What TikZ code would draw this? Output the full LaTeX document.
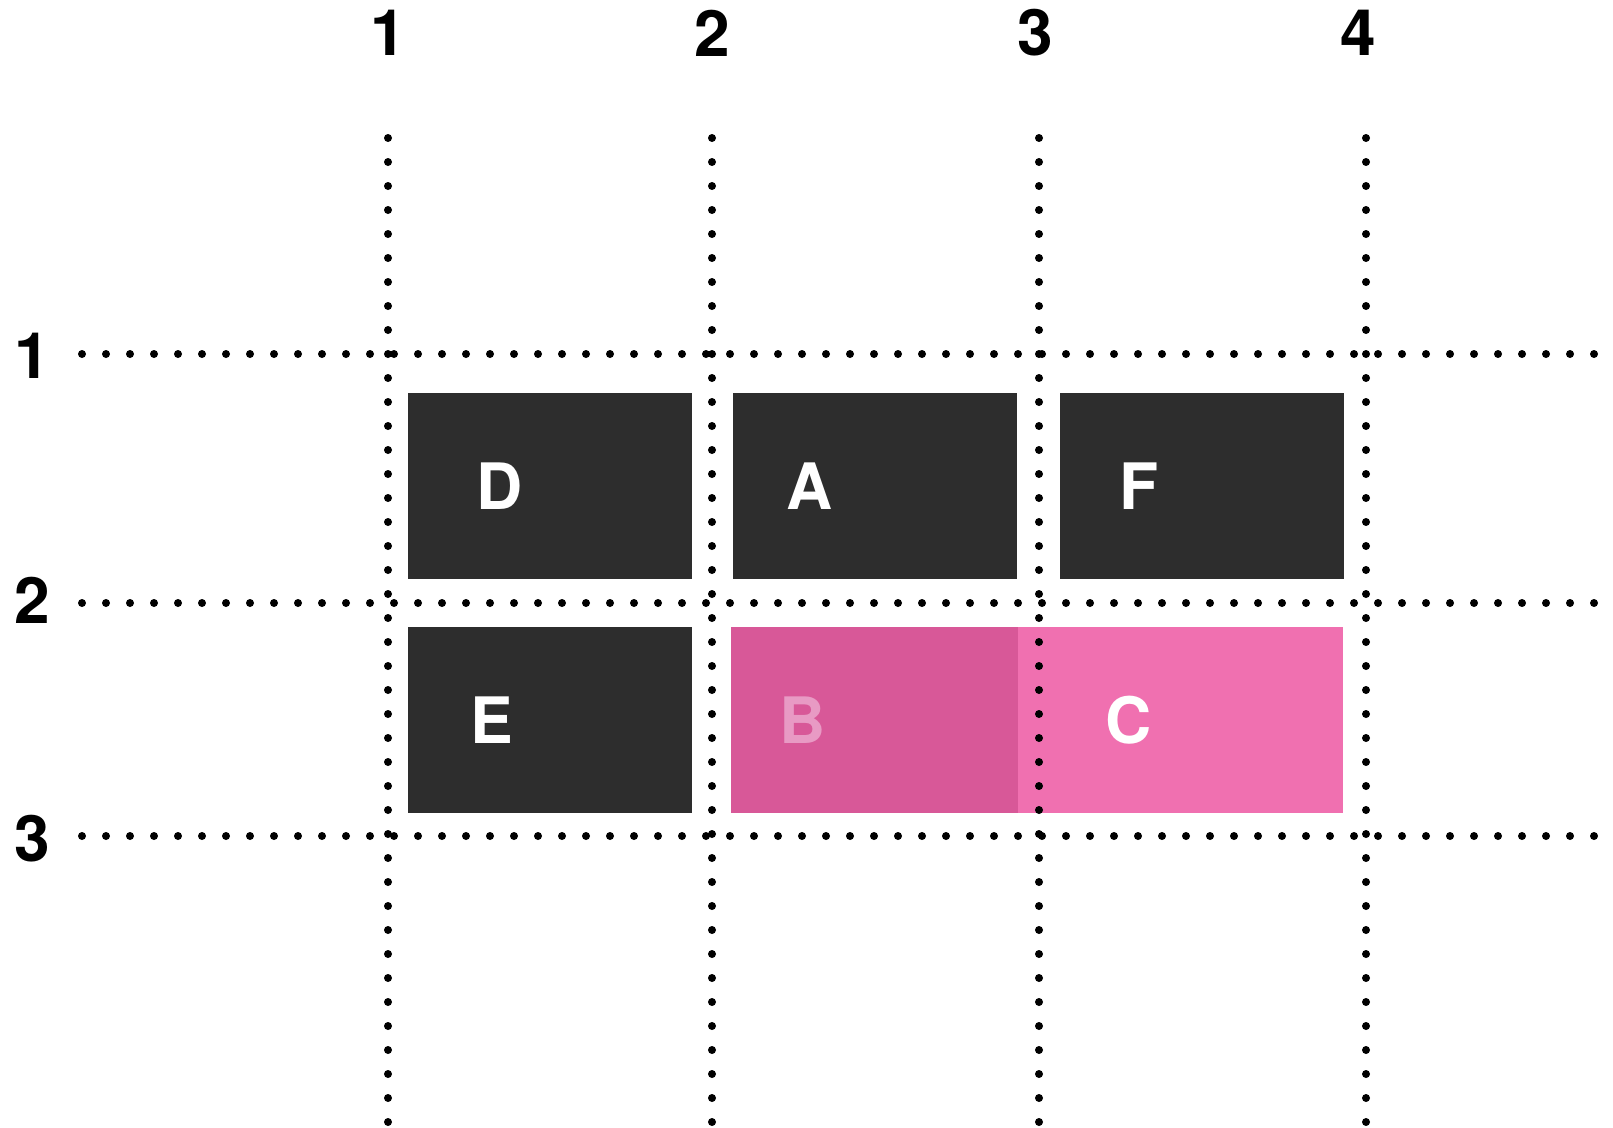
\documentclass[tikz,border=0pt]{standalone}
\usepackage{fontspec}
\setmainfont{TeX Gyre Heros}
\definecolor{CellClr}{HTML}{2D2D2D}
\definecolor{SpanClr}{HTML}{D85898}
\definecolor{SpanTopClr}{HTML}{F070B0}
\definecolor{SpanTxtClr}{HTML}{E89AC4}

\tikzset{
  gridline/.style={line width=8pt,line cap=round,dash pattern=on 0pt off 24pt},
  cell/.style={rectangle,inner sep=0pt,anchor=north west,
    minimum width=284pt,minimum height=186pt,fill=CellClr},
  celltext/.style={inner sep=0pt,text=white,font=\fontsize{64}{70}\selectfont\bfseries},
  linenum/.style={inner sep=0pt,font=\fontsize{64}{70}\selectfont\bfseries}
}

\begin{document}
\begin{tikzpicture}[x=1pt,y=-1pt]
\useasboundingbox (0,0) rectangle (1613,1127);

% grid items
\node[cell] (D) at (408,393) {};
\node[cell] (A) at (733,393) {};
\node[cell] (F) at (1060,393) {};
\node[cell] (E) at (408,627) {};
\node[cell,fill=SpanClr,minimum width=287pt] (B) at (731,627) {};
\node[cell,fill=SpanTopClr,minimum width=325pt] (C) at (1018,627) {};

\node[celltext] (Dtxt) at (500,486) {D};
\node[celltext] (Atxt) at (810,486) {A};
\node[celltext] (Ftxt) at (1139,486) {F};
\node[celltext] (Etxt) at (492,720) {E};
\node[celltext,text=SpanTxtClr] (Btxt) at (803,720) {B};
\node[celltext] (Ctxt) at (1129,720) {C};

% column lines
\foreach \x/\lx [count=\i] in {388/388,712/712,1039/1035,1366/1358}{
  \coordinate (col\i top) at (\x,138);
  \coordinate (col\i bot) at (\x,1127);
  \draw[gridline] (col\i top) -- (col\i bot);
  \node[linenum] (colnum\i) at (\lx,33) {\i};
}

% row lines
\foreach \y/\ly [count=\i] in {354/356,603/600,836/839}{
  \coordinate (row\i left) at (82,\y);
  \coordinate (row\i right) at (1613,\y);
  \draw[gridline] (row\i left) -- (row\i right);
  \node[linenum] (rownum\i) at (32,\ly) {\i};
}

\end{tikzpicture}
\end{document}
